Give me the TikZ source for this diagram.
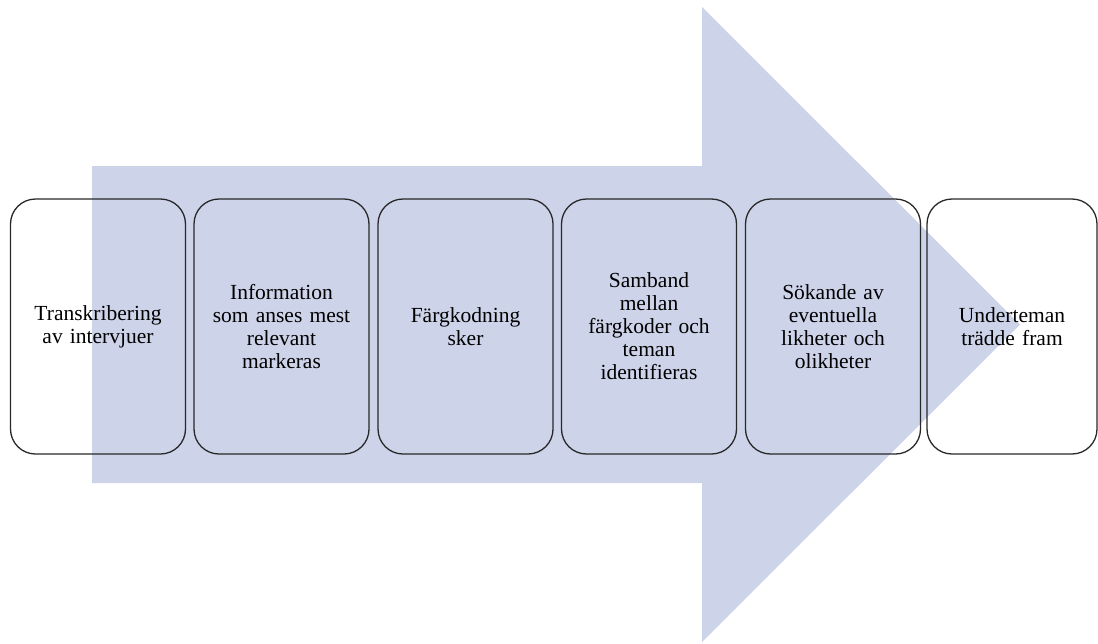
\documentclass[tikz,border=0pt]{standalone}
\usepackage{fontspec}
\setmainfont{Liberation Serif}
\definecolor{arrowfill}{RGB}{205,211,233}
\definecolor{boxline}{RGB}{40,40,40}
\begin{document}
\begin{tikzpicture}[x=1pt,y=-1pt,
  stepbox/.style={draw=boxline, line width=1.3pt, rounded corners=25pt,
    minimum width=175pt, minimum height=255pt, inner sep=0pt,
    align=center, text width=168pt,
    font=\fontsize{21.5}{23}\selectfont},
  flowarrow/.style={fill=arrowfill, draw=none}]
  \useasboundingbox (0,0) rectangle (1098,643);
  % big background arrow
  \fill[flowarrow] (92,166) -- (702,166) -- (702,7) -- (1020,324.5)
    -- (702,642) -- (702,483) -- (92,483) -- cycle;
  % process steps
  \node[stepbox] (s1) at (98,326.5) {Transkribering\\av intervjuer};
  \node[stepbox] (s2) at (281.5,326.5) {Information\\som anses mest\\relevant\\markeras};
  \node[stepbox] (s3) at (465.5,326.5) {Färgkodning\\sker};
  \node[stepbox] (s4) at (649,326.5) {Samband\\mellan\\färgkoder och\\teman\\identifieras};
  \node[stepbox] (s5) at (833,326.5) {Sökande av\\eventuella\\likheter och\\olikheter};
  \node[stepbox, minimum width=170pt] (s6) at (1012,326.5) {Underteman\\trädde fram};
\end{tikzpicture}
\end{document}
